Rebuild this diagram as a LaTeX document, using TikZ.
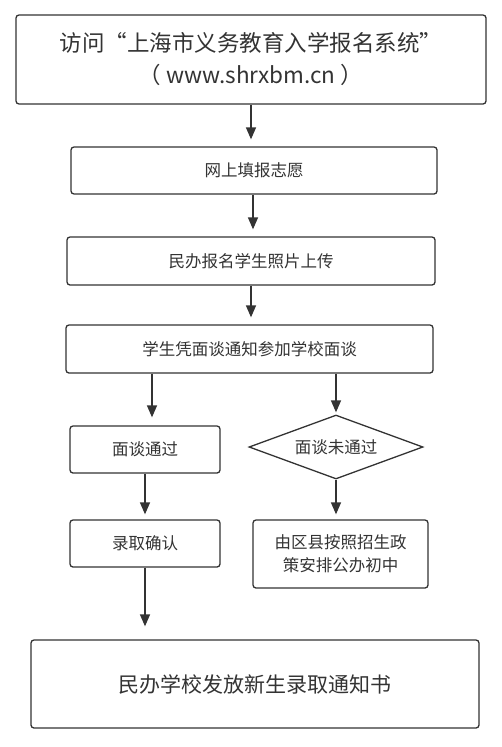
\documentclass[tikz,border=0pt]{standalone}
\usepackage{fontspec}
\setmainfont{Noto Sans CJK SC}
\usetikzlibrary{arrows.meta,shapes.geometric}
\definecolor{ink}{HTML}{333333}
\begin{document}
\begin{tikzpicture}[x=1pt, y=-1pt,
    box/.style={draw=ink, line width=1.3pt, rounded corners=3pt, text=ink,
      align=center, inner sep=0pt, font=\fontsize{16.5}{23}\selectfont},
    bigbox/.style={box, font=\fontsize{22.5}{32}\selectfont},
    choice/.style={diamond, draw=ink, line width=1.3pt, text=ink, inner sep=0pt,
      aspect=2.72, font=\fontsize{16.5}{23}\selectfont},
    arr/.style={draw=ink, line width=1.5pt, -{Triangle[length=12pt,width=10pt]}}]
    \useasboundingbox (0,0) rectangle (502,747);

    \node[bigbox, minimum width=470pt, minimum height=89pt] (visit) at (251,59.5)
      {访问“上海市义务教育入学报名系统”\\（ www.shrxbm.cn ）};
    \node[box, minimum width=366pt, minimum height=47pt] (fill) at (254,170.5) {网上填报志愿};
    \node[box, minimum width=368pt, minimum height=48pt] (upload) at (251,261) {民办报名学生照片上传};
    \node[box, minimum width=367pt, minimum height=48pt] (talk) at (249.5,349) {学生凭面谈通知参加学校面谈};

    \node[box, minimum width=150pt, minimum height=47pt] (pass) at (145,449.5) {面谈通过};
    \node[choice, minimum width=174pt, minimum height=64pt] (fail) at (336,447) {面谈未通过};
    \node[box, minimum width=150pt, minimum height=47pt] (confirm) at (145,543.5) {录取确认};
    \node[box, minimum width=175pt, minimum height=68pt] (arrange) at (340.5,554)
      {由区县按照招生政\\策安排公办初中};

    \node[bigbox, minimum width=448pt, minimum height=88pt, font=\fontsize{21}{28}\selectfont]
      (notice) at (255,684) {民办学校发放新生录取通知书};

    % connectors
    \coordinate (passin) at ([xshift=7pt]pass.north);
    \coordinate (uploadin) at ([xshift=-1pt]fill.south |- upload.north);
    \draw[arr, shorten >=7pt] (visit.south) -- (visit.south |- fill.north);
    \draw[arr, shorten >=7pt] (fill.south -| uploadin) -- (uploadin);
    \draw[arr, shorten >=7pt] (upload.south) -- (upload.south |- talk.north);
    \draw[arr, shorten >=8pt] (talk.south -| passin) -- (passin);
    \draw[arr, shorten >=2pt] (talk.south -| fail.north) -- (fail.north);
    \draw[arr, shorten >=5pt] (pass.south) -- (confirm.north);
    \draw[arr, shorten >=5pt] (fail.south) -- (fail.south |- arrange.north);
    \draw[arr, shorten >=13pt] (confirm.south) -- (confirm.south |- notice.north);
\end{tikzpicture}
\end{document}
